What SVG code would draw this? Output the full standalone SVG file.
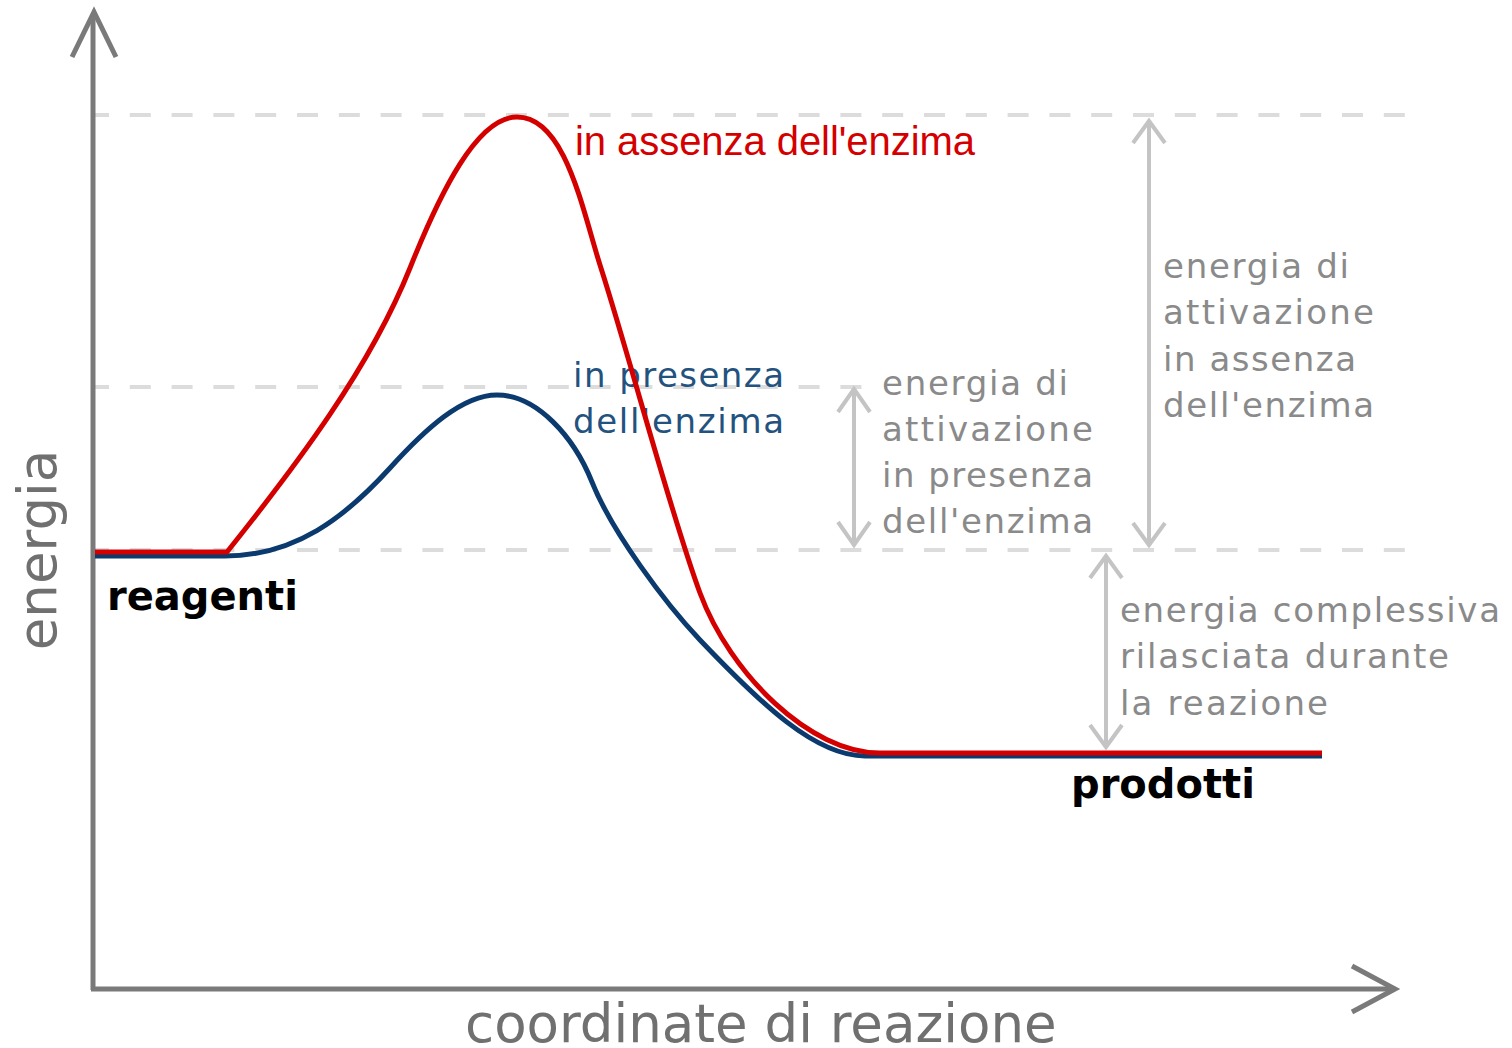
<svg xmlns="http://www.w3.org/2000/svg" width="1512" height="1048" viewBox="0 0 1512 1048">
<style>
.bg{fill:#ffffff}
.axis{fill:none;stroke:#7a7a7a;stroke-width:5;stroke-linejoin:miter}
.guide{fill:none;stroke:#dcdcdc;stroke-width:4;stroke-dasharray:21 20.8;stroke-dashoffset:7}
.dim{fill:none;stroke:#c4c4c4;stroke-width:4;stroke-linecap:butt;stroke-linejoin:miter}
.red{fill:none;stroke:#d40000;stroke-width:5;stroke-linejoin:round}
.blue{fill:none;stroke:#0b3a6e;stroke-width:5;stroke-linejoin:round}
.gray{font-family:"DejaVu Sans",Verdana,sans-serif;font-size:34px;fill:#8a8a8a}
.bluet{font-family:"DejaVu Sans",Verdana,sans-serif;font-size:34px;fill:#24527f}
.redt{font-family:"Liberation Sans",Arial,sans-serif;font-size:40px;fill:#d40000}
.bold{font-family:"DejaVu Sans",Verdana,sans-serif;font-size:40px;font-weight:bold;fill:#000000}
.axl{font-family:"DejaVu Sans",Verdana,sans-serif;font-size:53px;fill:#707070}
</style>
<rect class="bg" x="0" y="0" width="1512" height="1048"/>
<g id="guides">
<line class="guide" x1="95" y1="115" x2="1408" y2="115"/>
<line class="guide" x1="95" y1="387" x2="865" y2="387"/>
<line class="guide" x1="95" y1="550" x2="1408" y2="550"/>
</g>
<g id="axes">
<path class="axis" d="M93,990 V14"/>
<path class="axis" d="M72,57 L94,12 L116,57"/>
<path class="axis" d="M91,989 H1392"/>
<path class="axis" d="M1352,966 L1395,989 L1352,1012"/>
</g>
<g id="connectors">
<g id="dim-presenza">
<path class="dim" d="M854,389 V545"/>
<path class="dim" d="M838,412 L854,389 L870,412"/>
<path class="dim" d="M838,522 L854,545 L870,522"/>
</g>
<g id="dim-assenza">
<path class="dim" d="M1149,121 V545"/>
<path class="dim" d="M1133,143 L1149,121 L1165,143"/>
<path class="dim" d="M1133,523 L1149,545 L1165,523"/>
</g>
<g id="dim-complessiva">
<path class="dim" d="M1106,556 V747"/>
<path class="dim" d="M1090,578 L1106,556 L1122,578"/>
<path class="dim" d="M1090,725 L1106,747 L1122,725"/>
</g>
</g>
<g id="label-presenza">
<text class="bluet" x="573" y="387" textLength="211" lengthAdjust="spacing">in presenza</text>
<text class="bluet" x="573" y="433" textLength="211" lengthAdjust="spacing">dell'enzima</text>
</g>
<g id="curves">
<path id="curve-presenza" class="blue" d="M95,556 L225,556 C295,556 345,517.5 390,468 C425,429.5 462,395 497,395 C537,395 574,437 592,482 C612,532 665,603 700,640 C760,703 815,756 865,756 L1322,756"/>
<path id="curve-assenza" class="red" d="M95,552 L227,552 C297,464.5 370,368 410,268 C440,193 477,117 517,117 C565,117 582,208 600,265 C630,358 670,512 700,593 C730,674 810,753 880,753 L1322,753"/>
</g>
<g id="label-assenza">
<text class="redt" x="575" y="155" textLength="400" lengthAdjust="spacing">in assenza dell'enzima</text>
</g>
<g id="note-presenza">
<text class="gray" x="882" y="395" textLength="186" lengthAdjust="spacing">energia di</text>
<text class="gray" x="882" y="441" textLength="211" lengthAdjust="spacing">attivazione</text>
<text class="gray" x="882" y="487" textLength="211" lengthAdjust="spacing">in presenza</text>
<text class="gray" x="882" y="533" textLength="211" lengthAdjust="spacing">dell'enzima</text>
</g>
<g id="note-assenza">
<text class="gray" x="1163" y="278" textLength="186" lengthAdjust="spacing">energia di</text>
<text class="gray" x="1163" y="324" textLength="211" lengthAdjust="spacing">attivazione</text>
<text class="gray" x="1163" y="371" textLength="193" lengthAdjust="spacing">in assenza</text>
<text class="gray" x="1163" y="417" textLength="211" lengthAdjust="spacing">dell'enzima</text>
</g>
<g id="note-complessiva">
<text class="gray" x="1120" y="622" textLength="380" lengthAdjust="spacing">energia complessiva</text>
<text class="gray" x="1120" y="668" textLength="329" lengthAdjust="spacing">rilasciata durante</text>
<text class="gray" x="1120" y="715" textLength="208" lengthAdjust="spacing">la reazione</text>
</g>
<g id="reagenti">
<text class="bold" x="107" y="610">reagenti</text>
</g>
<g id="prodotti">
<text class="bold" x="1071" y="798">prodotti</text>
</g>
<g id="x-label">
<text class="axl" x="465" y="1042">coordinate di reazione</text>
</g>
<g id="y-label">
<text class="axl" transform="translate(56,550) rotate(-90)" text-anchor="middle">energia</text>
</g>
</svg>
